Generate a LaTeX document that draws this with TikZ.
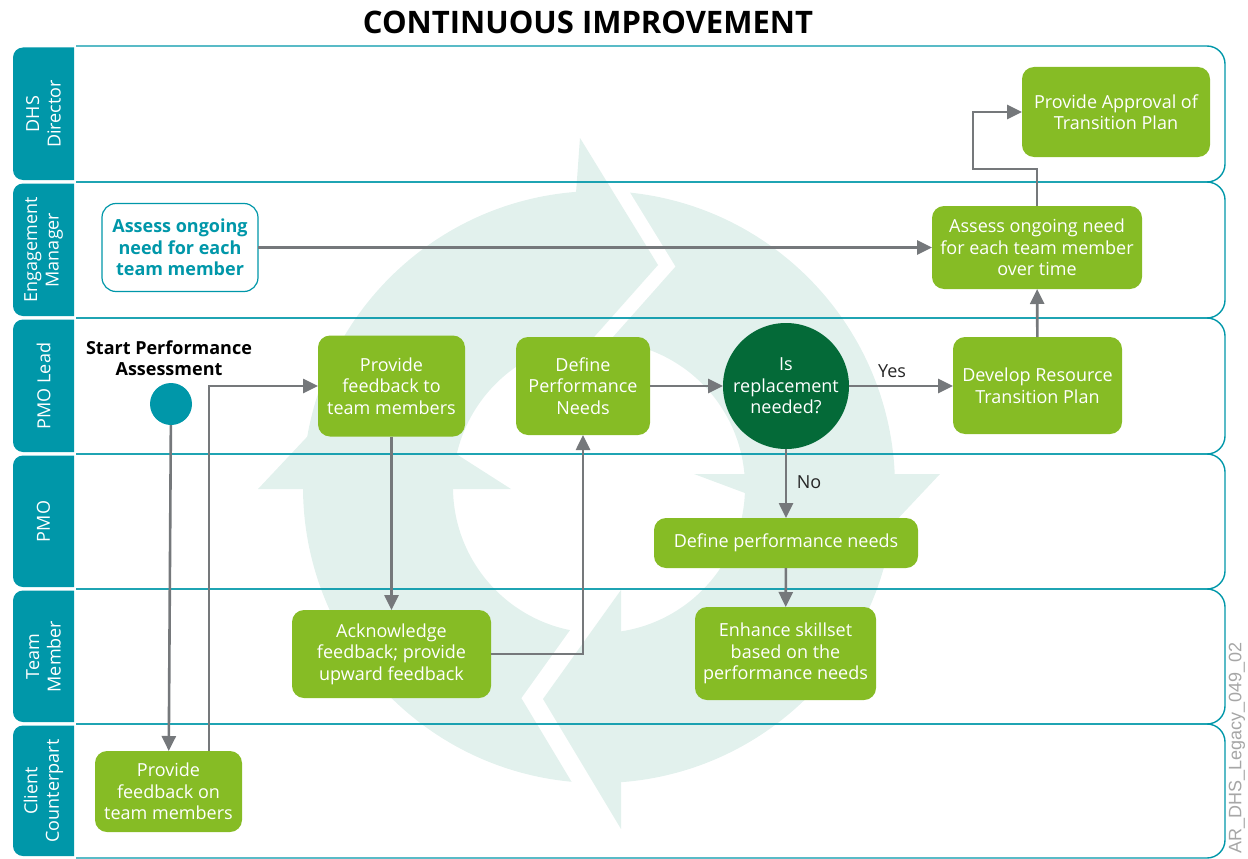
\documentclass[tikz,border=0pt]{standalone}
\usepackage{fontspec}
\setmainfont{Open Sans}
\newfontfamily\tagfont{Liberation Sans}
\usetikzlibrary{arrows.meta}

\definecolor{procgreen}{HTML}{86BC25}
\definecolor{decgreen}{HTML}{046A38}
\definecolor{laneteal}{HTML}{0097A9}
\definecolor{flowgray}{HTML}{75787B}
\definecolor{cyclemint}{HTML}{E2F1ED}
\definecolor{taggray}{HTML}{A6A6A6}

\tikzset{
  txt/.style={font=\fontsize{18}{21.5}\selectfont, align=center, inner sep=0pt, outer sep=0pt},
  proc/.style={txt, fill=procgreen, text=white, rounded corners=12pt},
  startnote/.style={txt, fill=white, draw=laneteal, line width=1.2pt, text=laneteal,
    font=\fontsize{18}{21.5}\selectfont\bfseries, rounded corners=14pt},
  decision/.style={txt, circle, fill=decgreen, text=white, minimum size=126pt},
  startdot/.style={circle, fill=laneteal, minimum size=42pt, inner sep=0pt, outer sep=0pt},
  lanelabel/.style={txt, text=white, rotate=90},
  laneline/.style={draw=laneteal, line width=1.4pt, rounded corners=18pt},
  tabfill/.style={fill=laneteal, rounded corners=10pt},
  flow/.style={draw=flowgray, line width=2.6pt, -{Triangle[length=15pt,width=14pt]}},
  flowlabel/.style={txt, text=black!85},
  gapline/.style={draw=white, line join=miter, miter limit=20},
}

\begin{document}
\begin{tikzpicture}[x=1pt,y=-1pt]
\useasboundingbox (0,0) rectangle (1248,859);

% ---- cycle emblem in the background ----
\fill[cyclemint, even odd rule] (599,487) circle[radius=296] (599,487) circle[radius=146];
% arrowhead flares on the left and right of the ring
\fill[cyclemint] (258,489) -- (511,489) -- (353,388) -- cycle;
\fill[cyclemint] (694,474) -- (940,474) -- (876,542) -- cycle;
% top arrowhead with its white separating gap
\draw[gapline, line width=28pt] (580,138) -- (658,265) -- (563,372);
\fill[cyclemint] (580,138) -- (658,265) -- (563,372) -- cycle;
% bottom arrowhead with its white separating gap
\draw[gapline, line width=36pt] (621,829) -- (543,699) -- (621,590);
\fill[cyclemint] (621,829) -- (543,699) -- (621,590) -- cycle;

% ---- title ----
\node[font=\fontsize{31}{35}\selectfont\bfseries, inner sep=0pt] (title) at (588,22) {CONTINUOUS IMPROVEMENT};

% ---- swim lanes ----
\foreach \t/\b in {46/182,182/318,318/454,454/589,589/724,724/858}{
  \draw[laneline] (76,\t) -- (1225,\t) -- (1225,\b) -- (76,\b);
  \begin{scope}
    \clip (0,0) rectangle (74,859);
    \fill[tabfill] (13,\t+1.5) rectangle (100,\b-2);
  \end{scope}
}
\node[lanelabel] (lane1) at (43.5,114) {DHS\\Director};
\node[lanelabel] (lane2) at (43.5,250) {Engagement\\Manager};
\node[lanelabel] (lane3) at (43.5,386) {PMO Lead};
\node[lanelabel] (lane4) at (43.5,521.5) {PMO};
\node[lanelabel] (lane5) at (43.5,656.5) {Team\\Member};
\node[lanelabel] (lane6) at (43.5,791) {Client\\Counterpart};

% ---- process steps ----
\node[proc, minimum width=188pt, minimum height=90pt] (approve) at (1116,112) {Provide Approval of\\Transition Plan};
\node[proc, minimum width=210pt, minimum height=83pt] (assessover) at (1037,247.5) {Assess ongoing need\\for each team member\\over time};
\node[startnote, minimum width=156pt, minimum height=88pt] (assessnote) at (180,247.5) {Assess ongoing\\need for each\\team member};
\node[txt, font=\fontsize{18}{21.5}\selectfont\bfseries] (startlbl) at (169,358) {Start Performance\\Assessment};
\node[startdot] (start) at (171,404) {};
\node[proc, minimum width=147pt, minimum height=101pt] (fbto) at (391.5,386) {Provide\\feedback to\\team members};
\node[proc, minimum width=134pt, minimum height=98pt] (defperf) at (583,386) {Define\\Performance\\Needs};
\node[decision] (replace) at (786,386) {Is\\replacement\\needed?};
\node[proc, minimum width=169pt, minimum height=97pt] (develop) at (1037.5,385.5) {Develop Resource\\Transition Plan};
\node[proc, minimum width=264pt, minimum height=50pt] (defneeds) at (786,543) {Define performance needs};
\node[proc, minimum width=199pt, minimum height=88pt] (ack) at (391.5,654) {Acknowledge\\feedback; provide\\upward feedback};
\node[proc, minimum width=181pt, minimum height=93pt] (enhance) at (785.5,653.5) {Enhance skillset\\based on the\\performance needs};
\node[proc, minimum width=147pt, minimum height=81pt] (fbon) at (168.5,791.5) {Provide\\feedback on\\team members};

% ---- connectors ----
\coordinate (approvalbend) at (973,169);
\draw[flow] (start) -- (fbon);
\draw[flow] ([xshift=40.5pt]fbon.north) |- (fbto.west);
\draw[flow] (fbto) -- (ack);
\draw[flow] (ack.east) -| (defperf.south);
\draw[flow] (defperf) -- (replace);
\draw[flow] (replace.east) -- (replace.east -| develop.west);
\draw[flow] (replace) -- (defneeds);
\draw[flow] (defneeds) -- (enhance);
\draw[flow] (develop) -- (assessover);
\draw[flow] (assessover.north) |- (approvalbend) |- (approve.west);
\draw[flow] (assessnote.east) -- (assessover.west);
\node[flowlabel] (yes) at (892,371) {Yes};
\node[flowlabel] (no) at (809,482) {No};

% ---- drawing tag ----
\node[rotate=90, font=\tagfont\fontsize{18}{20}\selectfont, text=taggray, inner sep=0pt] (tag) at (1237,748) {AR\_DHS\_Legacy\_049\_02};
\end{tikzpicture}
\end{document}
